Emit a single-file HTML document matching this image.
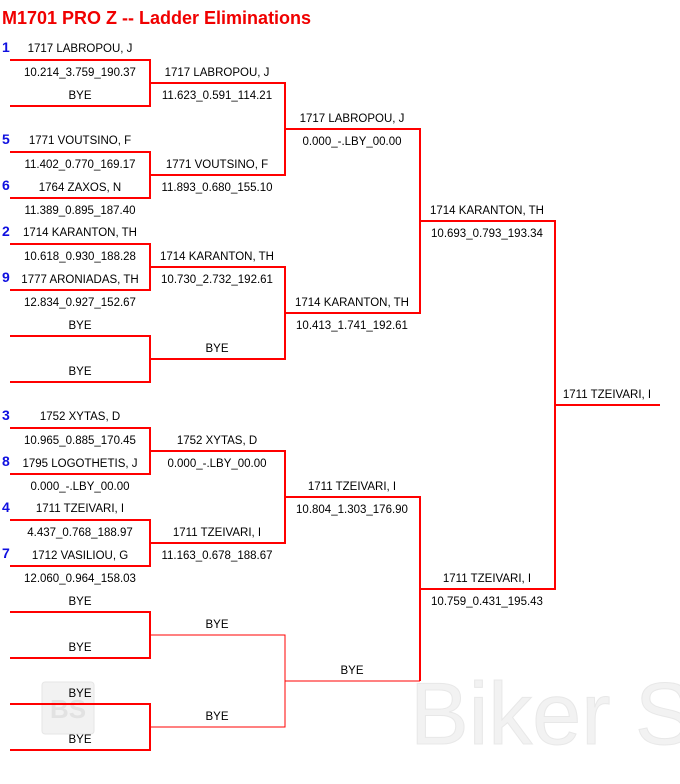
<!DOCTYPE html>
<html><head><meta charset="utf-8"><style>
html,body{margin:0;padding:0;background:#fff;width:680px;height:784px;overflow:hidden}
svg{display:block}
text{font-family:"Liberation Sans",Arial,sans-serif;font-size:11.5px;fill:#000;text-anchor:middle}
.s{fill:#1010e0;font-weight:bold;font-size:14px;text-anchor:start}
</style></head><body>
<svg width="680" height="784" viewBox="0 0 680 784" xmlns="http://www.w3.org/2000/svg">
<text x="410" y="744" style="font-size:88px;fill:#f2f2f2;stroke:#e8e8e8;stroke-width:1;text-anchor:start">Biker Sp</text>
<rect x="42" y="682" width="52" height="52" rx="3" fill="#f2f2f2" stroke="#e6e6e6"/>
<text x="68" y="718" style="font-size:26px;fill:#e2e2e2;font-weight:bold">BS</text>
<text x="2" y="24" style="font-size:18px;font-weight:bold;fill:#f00000;text-anchor:start">M1701 PRO Z -- Ladder Eliminations</text>
<g fill="none" stroke="#f00" stroke-width="2">
<path d="M10 60H150V106H10"/><path d="M10 152H150V198H10"/>
<path d="M10 244H150V290H10"/><path d="M10 336H150V382H10"/>
<path d="M10 428H150V474H10"/><path d="M10 520H150V566H10"/>
<path d="M10 612H150V658H10"/><path d="M10 704H150V750H10"/>
<path d="M150 83H285V175H150"/><path d="M150 267H285V359H150"/>
<path d="M150 451H285V543H150"/>
<path d="M285 129H420V313H285"/>
<path d="M285 497H420V681"/>
<path d="M420 221H555V589H420"/>
<path d="M555 405H660"/>
</g>
<g fill="none" stroke="#f00" stroke-width="1">
<path d="M150 635H285V727H150"/><path d="M285 681H420"/>
</g>
<text class="s" x="2" y="52">1</text><text class="s" x="2" y="144">5</text><text class="s" x="2" y="190">6</text>
<text class="s" x="2" y="236">2</text><text class="s" x="2" y="282">9</text>
<text class="s" x="2" y="420">3</text><text class="s" x="2" y="466">8</text>
<text class="s" x="2" y="512">4</text><text class="s" x="2" y="558">7</text>
<g>
<text x="80" y="52">1717 LABROPOU, J</text><text x="80" y="76">10.214_3.759_190.37</text><text x="80" y="99">BYE</text>
<text x="80" y="144">1771 VOUTSINO, F</text><text x="80" y="168">11.402_0.770_169.17</text><text x="80" y="191">1764 ZAXOS, N</text><text x="80" y="214">11.389_0.895_187.40</text>
<text x="80" y="236">1714 KARANTON, TH</text><text x="80" y="260">10.618_0.930_188.28</text><text x="80" y="283">1777 ARONIADAS, TH</text><text x="80" y="306">12.834_0.927_152.67</text>
<text x="80" y="329">BYE</text><text x="80" y="375">BYE</text>
<text x="80" y="420">1752 XYTAS, D</text><text x="80" y="444">10.965_0.885_170.45</text><text x="80" y="467">1795 LOGOTHETIS, J</text><text x="80" y="490">0.000_-.LBY_00.00</text>
<text x="80" y="512">1711 TZEIVARI, I</text><text x="80" y="536">4.437_0.768_188.97</text><text x="80" y="559">1712 VASILIOU, G</text><text x="80" y="582">12.060_0.964_158.03</text>
<text x="80" y="605">BYE</text><text x="80" y="651">BYE</text><text x="80" y="697">BYE</text><text x="80" y="743">BYE</text>
<text x="217" y="76">1717 LABROPOU, J</text><text x="217" y="99">11.623_0.591_114.21</text>
<text x="217" y="168">1771 VOUTSINO, F</text><text x="217" y="191">11.893_0.680_155.10</text>
<text x="217" y="260">1714 KARANTON, TH</text><text x="217" y="283">10.730_2.732_192.61</text>
<text x="217" y="352">BYE</text>
<text x="217" y="444">1752 XYTAS, D</text><text x="217" y="467">0.000_-.LBY_00.00</text>
<text x="217" y="536">1711 TZEIVARI, I</text><text x="217" y="559">11.163_0.678_188.67</text>
<text x="217" y="628">BYE</text><text x="217" y="720">BYE</text>
<text x="352" y="122">1717 LABROPOU, J</text><text x="352" y="145">0.000_-.LBY_00.00</text>
<text x="352" y="306">1714 KARANTON, TH</text><text x="352" y="329">10.413_1.741_192.61</text>
<text x="352" y="490">1711 TZEIVARI, I</text><text x="352" y="513">10.804_1.303_176.90</text>
<text x="352" y="674">BYE</text>
<text x="487" y="214">1714 KARANTON, TH</text><text x="487" y="237">10.693_0.793_193.34</text>
<text x="487" y="582">1711 TZEIVARI, I</text><text x="487" y="605">10.759_0.431_195.43</text>
<text x="607" y="398">1711 TZEIVARI, I</text>
</g>
</svg>
</body></html>
